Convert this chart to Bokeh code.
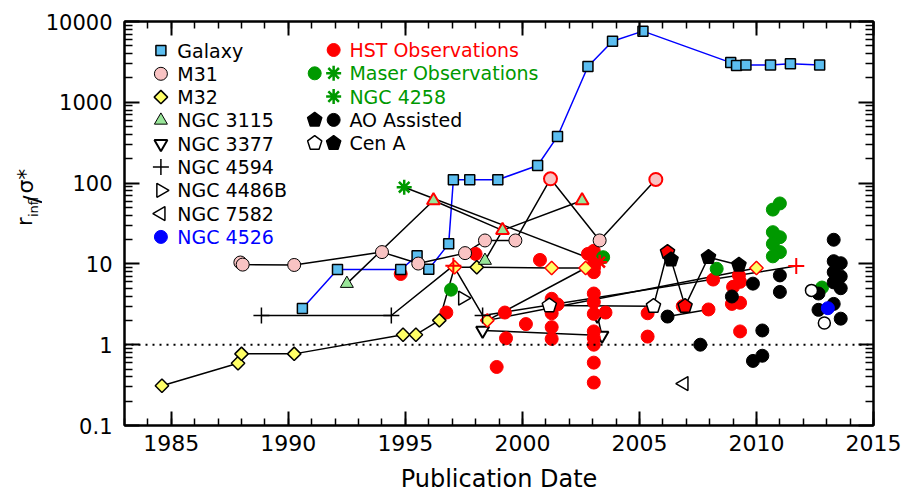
import numpy as np
from bokeh.plotting import figure
from bokeh.layouts import row
from bokeh.models import FixedTicker, LinearAxis, LogAxis, Span, CustomJSTickFormatter, Range1d
from bokeh.core.properties import value
from bokeh.embed import file_html
from bokeh.resources import INLINE

# ---------------- data (publication year, r_infl / sigma_*) ----------------
galaxy_year = [1990.6, 1992.1, 1994.8, 1995.5, 1996.0, 1996.85, 1997.05, 1997.75, 1998.95,
               2000.65, 2001.5, 2002.8, 2003.85, 2005.15, 2008.9, 2009.15, 2009.55, 2010.6,
               2011.45, 2012.7]
galaxy_val = [2.8, 8.5, 8.5, 12.6, 8.6, 17.7, 110, 110, 110, 165, 378, 2770, 5700, 7600,
              3100, 2850, 2900, 2900, 3000, 2900]

m31_year = [1987.95, 1988.05, 1990.25, 1994.0, 1995.55, 1997.55, 1998.4, 1999.7, 2001.2, 2003.3, 2005.7]
m31_val = [10.4, 9.8, 9.7, 14.0, 10.1, 13.6, 19.5, 19.5, 113, 19.5, 111]
m31_hst = [0, 0, 0, 0, 0, 0, 0, 0, 1, 0, 1]

m32_year = [1984.6, 1987.85, 1988.0, 1990.25, 1994.9, 1995.45, 1996.45, 1997.1, 1998.05,
            2001.25, 2002.7, 1998.5, 2010.0]
m32_val = [0.31, 0.59, 0.77, 0.77, 1.33, 1.33, 2.0, 9.1, 9.1, 8.9, 8.9, 2.0, 8.9]
m32_hst = [0, 0, 0, 0, 0, 0, 0, 1, 0, 1, 1, 1, 1]

n3115_year = [1992.5, 1996.2, 1998.4, 1999.15, 2002.55]
n3115_val = [5.7, 61, 11, 26, 61]
n3115_hst = [0, 1, 0, 1, 1]
n3115_path = [0, 1, 3, 2, 3, 4]

n3377_year = [2003.2, 2003.4, 1998.3]
n3377_val = [2.3, 1.3, 1.5]

n4594_year = [1988.85, 1994.4, 1997.05, 1998.3, 2011.7]
n4594_val = [2.3, 2.3, 9.5, 2.3, 9.4]
n4594_hst = [0, 0, 1, 0, 1]

n4486b_year = [1997.45]
n4486b_val = [3.76]
n7582_year = [2006.9]
n7582_val = [0.33]
n4526_year = [2013.05]
n4526_val = [2.83]

n4258_year = [1994.95, 2003.3]
n4258_val = [89, 10.5]
n4258_hst = [0, 1]

cena_year = [2001.15, 2005.6, 2006.2, 2006.35, 2006.95, 2007.95, 2009.25]
cena_val = [3.05, 3.0, 14.0, 11.3, 3.0, 12.1, 9.7]
cena_kind = ["open", "open", "hst", "ao", "hst", "ao", "ao"]

hst_year = [1994.8, 1996.75, 1998.0, 1998.9, 1999.25, 1999.3, 2000.15, 2000.75,
            2001.25, 2001.25, 2001.25, 2001.25, 2001.5, 2002.8,
            2003.05, 2003.05, 2003.05, 2003.05, 2003.05, 2003.05, 2003.05, 2003.05, 2003.05, 2003.05, 2003.05,
            2003.55, 2005.35, 2005.35, 2006.85, 2007.95, 2008.15,
            2009.25, 2009.3, 2009.0, 2008.95, 2009.3, 2009.3]
hst_val = [7.5, 2.5, 13.3, 0.53, 2.5, 1.2, 1.8, 11.2,
           3.7, 2.45, 1.65, 1.18, 3.15, 13.3,
           14.5, 10.0, 7.9, 4.3, 3.36, 2.41, 1.46, 1.21, 1.0, 0.60, 0.34,
           2.5, 2.45, 1.26, 3.0, 2.73, 6.4,
           7.2, 6.0, 5.2, 3.2, 3.3, 1.46]

maser_year = [1996.95, 2003.45, 2008.3, 2010.7, 2011.0, 2010.7, 2011.0, 2010.7, 2011.0, 2010.7, 2012.8]
maser_val = [4.8, 12.1, 8.7, 47, 56, 24.7, 21.4, 17.7, 14.0, 12.4, 5.1]

ao_year = [2006.2, 2007.6, 2008.95, 2009.85, 2010.25, 2009.85, 2010.25, 2011.0, 2011.0,
           2013.3, 2013.3, 2013.6, 2013.3, 2013.6, 2013.3, 2013.6, 2012.65, 2013.3, 2012.65, 2013.6]
ao_val = [2.23, 1.0, 3.95, 5.7, 1.5, 0.63, 0.73, 7.2, 4.5,
          19.9, 10.8, 10.2, 7.9, 7.0, 5.9, 5.0, 4.3, 3.2, 2.7, 2.1]

open_year = [2012.35, 2012.9]
open_val = [4.7, 1.86]

pair_year = [2006.2, 2007.95]
pair_val = [2.23, 2.73]

x_ticks = [1985, 1990, 1995, 2000, 2005, 2010, 2015]
x_minor = list(range(1983, 2016))
y_ticks = [0.1, 1, 10, 100, 1000, 10000]
y_minor = [k * 10.0 ** e for e in range(-1, 4) for k in range(2, 10)]

# ---------------- layout ----------------
TOTAL_W, H = 905, 500
SIDE_W = 42            # strip holding the rotated y title
W = TOTAL_W - SIDE_W
ML, MR, MT, MB = 122 - SIDE_W, 32, 21, 75
X0, X1 = 1983, 2015
Y0, Y1 = 0.1, 10000
FW = W - ML - MR
FH = H - MT - MB
PPY = FW / (X1 - X0)
PPD = FH / (np.log10(Y1) - np.log10(Y0))
FONT = "DejaVu Sans"

BLUE_FILL = "#5CBEF0"
PINK = "#F9C3C3"
YELLOW = "#FFFF66"
LGREEN = "#99E699"
GREEN = "#009900"
RED = "#FF0000"


def fx(px):
    return X0 + px / PPY


def fy(py):
    return 10 ** (np.log10(Y1) - py / PPD)


def pentagon(xc, yc, r=7.5):
    ang = np.pi / 2 + 2 * np.pi * np.arange(5) / 5
    xs = list(xc + r * np.cos(ang) / PPY)
    ys = list(yc * 10 ** (r * np.sin(ang) / PPD))
    return xs, ys


p = figure(width=W, height=H, x_range=(X0, X1), y_range=(Y0, Y1), y_axis_type="log",
           output_backend="svg", toolbar_location=None,
           min_border_left=ML, min_border_right=MR, min_border_top=MT, min_border_bottom=MB)
p.grid.visible = False
p.outline_line_color = "black"
p.outline_line_width = 2
p.background_fill_color = "white"
p.border_fill_color = "white"

xt = FixedTicker(ticks=x_ticks, minor_ticks=x_minor)
yt = FixedTicker(ticks=y_ticks, minor_ticks=y_minor)
fmt = CustomJSTickFormatter(code="return tick.toString();")
blank = CustomJSTickFormatter(code="return '';")


def style_axis(ax, show, major_len, minor_len, standoff, size="22px"):
    ax.axis_line_width = 2
    ax.axis_line_color = "black"
    ax.major_tick_line_width = 2
    ax.minor_tick_line_width = 1.5
    ax.major_tick_line_color = "black"
    ax.minor_tick_line_color = "black"
    ax.major_tick_in = major_len
    ax.major_tick_out = 0
    ax.minor_tick_in = minor_len
    ax.minor_tick_out = 0
    if show:
        ax.formatter = fmt
        ax.major_label_text_font = FONT
        ax.major_label_text_font_size = size
        ax.major_label_text_color = "black"
        ax.major_label_standoff = standoff
    else:
        ax.formatter = blank
        ax.major_label_standoff = 0


p.xaxis[0].ticker = xt
p.yaxis[0].ticker = yt
style_axis(p.xaxis[0], True, 14, 7, 9)
style_axis(p.yaxis[0], True, 15, 8, 12, "21px")
p.xaxis[0].axis_label = "Publication Date"
p.xaxis[0].axis_label_text_font = FONT
p.xaxis[0].axis_label_text_font_size = "24px"
p.xaxis[0].axis_label_text_font_style = "normal"
p.xaxis[0].axis_label_text_color = "black"
p.xaxis[0].axis_label_standoff = 11
top_ax = LinearAxis(ticker=xt)
style_axis(top_ax, False, 14, 7, 0)
p.add_layout(top_ax, "above")
right_ax = LogAxis(ticker=yt)
style_axis(right_ax, False, 15, 8, 0)
p.add_layout(right_ax, "right")

p.add_layout(Span(location=1, dimension="width", line_color="black", line_width=2, line_dash="2 5"))

# ---------------- connecting lines ----------------
LW = 1.5
p.line(galaxy_year, galaxy_val, line_color="#0000FF", line_width=LW)
p.line(m31_year, m31_val, line_color="black", line_width=LW)
p.line(m32_year, m32_val, line_color="black", line_width=LW)
p.line([n3115_year[i] for i in n3115_path], [n3115_val[i] for i in n3115_path], line_color="black", line_width=LW)
p.line(n3377_year, n3377_val, line_color="black", line_width=LW)
p.line(n4594_year, n4594_val, line_color="black", line_width=LW)
p.line(n4258_year, n4258_val, line_color="black", line_width=LW)
p.line(cena_year, cena_val, line_color="black", line_width=LW)
p.line(pair_year, pair_val, line_color="black", line_width=LW)

# ---------------- points ----------------
p.scatter(n3377_year, n3377_val, marker="inverted_triangle", size=13, fill_color="white", line_color="black", line_width=2)
p.scatter(hst_year, hst_val, marker="circle", size=13, fill_color=RED, line_color=RED)
p.scatter(maser_year, maser_val, marker="circle", size=13, fill_color=GREEN, line_color=GREEN)
p.scatter(ao_year, ao_val, marker="circle", size=13, fill_color="black", line_color="black")
p.scatter(open_year, open_val, marker="circle", size=12, fill_color="white", line_color="black", line_width=1.5)
p.scatter(n4526_year, n4526_val, marker="circle", size=13, fill_color="#0000FF", line_color="#0000FF")

p.scatter(galaxy_year, galaxy_val, marker="square", size=10, fill_color=BLUE_FILL, line_color="black", line_width=1.5)
p.scatter(m31_year, m31_val, marker="circle", size=13, fill_color=PINK,
          line_color=[RED if h else "black" for h in m31_hst], line_width=[2 if h else 1 for h in m31_hst])
p.scatter(m32_year, m32_val, marker="square", angle=np.pi / 4, size=9.5, fill_color=YELLOW,
          line_color=[RED if h else "black" for h in m32_hst], line_width=1.5)
p.scatter(n3115_year, n3115_val, marker="triangle", size=13, fill_color=LGREEN,
          line_color=[RED if h else "black" for h in n3115_hst], line_width=[2 if h else 1 for h in n3115_hst])
p.scatter(n4594_year, n4594_val, marker="cross", size=16,
          line_color=[RED if h else "black" for h in n4594_hst], line_width=[2 if h else 1.5 for h in n4594_hst])
p.scatter(n4486b_year, n4486b_val, marker="triangle", angle=-np.pi / 2, size=14, fill_color="white", line_color="black", line_width=1.5)
p.scatter(n7582_year, n7582_val, marker="triangle", angle=np.pi / 2, size=14, fill_color="white", line_color="black", line_width=1.5)
p.scatter(n4258_year, n4258_val, marker="asterisk", size=15,
          line_color=[RED if h else GREEN for h in n4258_hst], line_width=2.5)

pent_fill = {"open": "white", "hst": RED, "ao": "black"}
pxs, pys, pf = [], [], []
for yr, v, k in zip(cena_year, cena_val, cena_kind):
    xs, ys = pentagon(yr, v)
    pxs.append(xs)
    pys.append(ys)
    pf.append(pent_fill[k])
p.patches(pxs, pys, fill_color=pf, line_color="black", line_width=1.5)

# ---------------- legend ----------------
TS = "19px"
row_h = 23.3
lx_m, lx_t, ly0 = 36.5, 53, 29
left_rows = ["Galaxy", "M31", "M32", "NGC 3115", "NGC 3377", "NGC 4594", "NGC 4486B", "NGC 7582", "NGC 4526"]
lmx = fx(lx_m)
ly = [fy(ly0 + i * row_h) for i in range(len(left_rows))]
p.scatter([lmx], [ly[0]], marker="square", size=10, fill_color=BLUE_FILL, line_color="black", line_width=1.5)
p.scatter([lmx], [ly[1]], marker="circle", size=13, fill_color=PINK, line_color="black", line_width=1)
p.scatter([lmx], [ly[2]], marker="square", angle=np.pi / 4, size=9.5, fill_color=YELLOW, line_color="black", line_width=1.5)
p.scatter([lmx], [ly[3]], marker="triangle", size=13, fill_color=LGREEN, line_color="black", line_width=1)
p.scatter([lmx], [ly[4]], marker="inverted_triangle", size=13, fill_color="white", line_color="black", line_width=2)
p.scatter([lmx], [ly[5]], marker="cross", size=16, line_color="black", line_width=1.5)
p.scatter([lmx], [ly[6]], marker="triangle", angle=-np.pi / 2, size=14, fill_color="white", line_color="black", line_width=1.5)
p.scatter([lmx], [ly[7]], marker="triangle", angle=np.pi / 2, size=14, fill_color="white", line_color="black", line_width=1.5)
p.scatter([lmx], [ly[8]], marker="circle", size=13, fill_color="#0000FF", line_color="#0000FF")
p.text([fx(lx_t)] * len(left_rows), ly, text=left_rows,
       text_color=["black"] * 8 + ["#0000FF"], text_font=value(FONT), text_font_size=value(TS),
       text_baseline="middle", text_align="left")

rx1, rx2, rx_t, ry0 = 190.7, 209.7, 225.5, 28.5
right_rows = ["HST Observations", "Maser Observations", "NGC 4258", "AO Assisted", "Cen A"]
ry = [fy(ry0 + i * row_h) for i in range(len(right_rows))]
c1, c2 = fx(rx1), fx(rx2)
p.scatter([c2], [ry[0]], marker="circle", size=13, fill_color=RED, line_color=RED)
p.scatter([c1], [ry[1]], marker="circle", size=13, fill_color=GREEN, line_color=GREEN)
p.scatter([c2], [ry[1]], marker="asterisk", size=15, line_color=GREEN, line_width=2.5)
p.scatter([c2], [ry[2]], marker="asterisk", size=15, line_color=GREEN, line_width=2.5)
p.scatter([c2], [ry[3]], marker="circle", size=13, fill_color="black", line_color="black")
lpx, lpy, lpf = [], [], []
for cx, cy, f in [(c1, ry[3], "black"), (c1, ry[4], "white"), (c2, ry[4], "black")]:
    xs, ys = pentagon(cx, cy)
    lpx.append(xs)
    lpy.append(ys)
    lpf.append(f)
p.patches(lpx, lpy, fill_color=lpf, line_color="black", line_width=1.5)
p.text([fx(rx_t)] * len(right_rows), ry, text=right_rows,
       text_color=[RED, GREEN, GREEN, "black", "black"], text_font=value(FONT), text_font_size=value(TS),
       text_baseline="middle", text_align="left")

# ---------------- rotated y title in a narrow strip (pixel coordinates) ----------------
side = figure(width=SIDE_W, height=H, x_range=Range1d(0, SIDE_W), y_range=Range1d(H, 0),
              output_backend="svg", toolbar_location=None, x_axis_location=None, y_axis_location=None,
              min_border_left=0, min_border_right=0, min_border_top=0, min_border_bottom=0)
side.grid.visible = False
side.outline_line_color = None
side.background_fill_color = "white"
side.border_fill_color = "white"
title_parts = ["r", "infl", "/", "σ*"]
title_x = [24, 33, 31, 25]
title_y = [253, 242, 225, 213]
title_size = ["21px", "13px", "23px", "22px"]
for t, tx, ty, ts in zip(title_parts, title_x, title_y, title_size):
    side.text([tx], [ty], text=[t], angle=np.pi / 2, text_font=value(FONT), text_font_size=value(ts),
              text_color="black", text_align="left", text_baseline="alphabetic")

layout = row(side, p)
open("out.html", "w").write(file_html(layout, INLINE))
